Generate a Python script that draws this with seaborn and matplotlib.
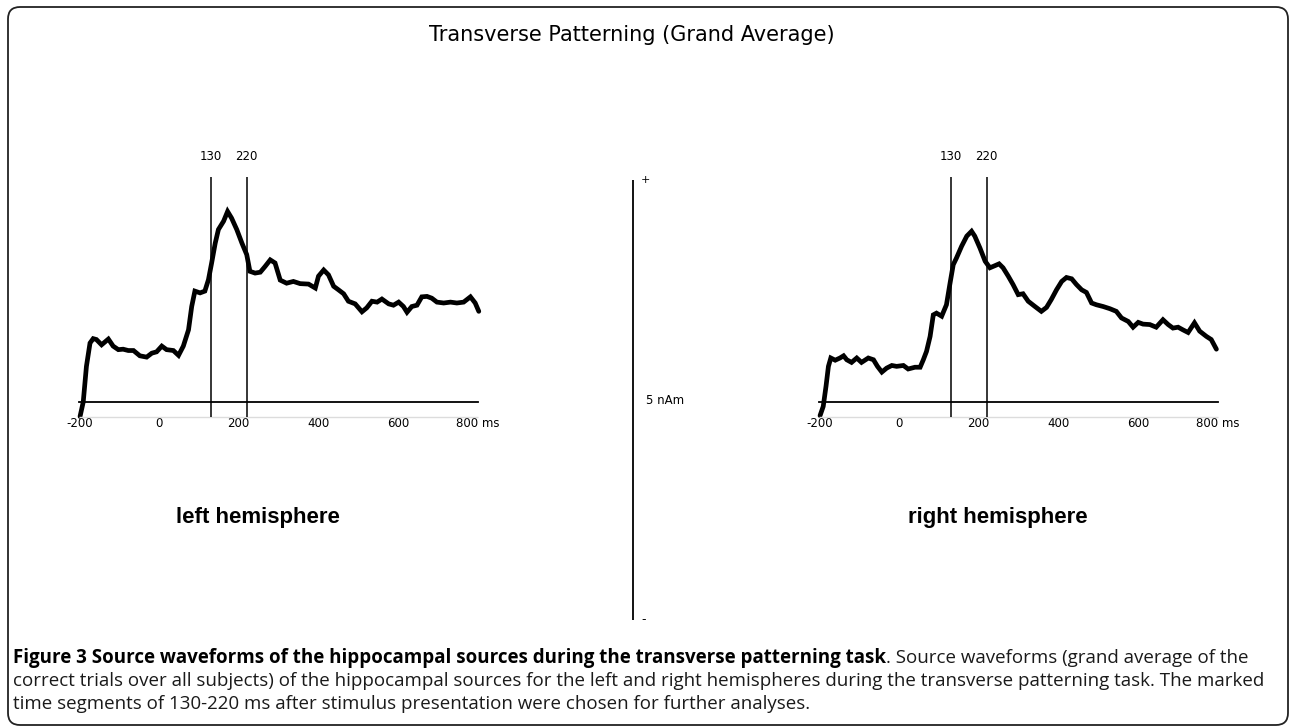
import numpy as np
import pandas as pd
import matplotlib.pyplot as plt
import seaborn as sns
from matplotlib.patches import FancyBboxPatch
from matplotlib.transforms import IdentityTransform

sns.set_style("white")
plt.rcParams['font.family'] = ['DejaVu Sans']
plt.rcParams['text.color'] = 'black'
plt.rcParams['xtick.color'] = 'black'
plt.rcParams['axes.edgecolor'] = 'black'

# grand-average source waveforms (ms, nAm)
left_ms = [-198, -190, -182, -173, -165, -157, -144, -127, -115, -102, -90, -77, -64, -48, -31, -18,
           -6, 7, 19, 36, 49, 61, 74, 82, 90, 103, 115, 124, 132, 141, 149, 162, 172, 182, 195, 208,
           220, 228, 241, 254, 266, 279, 291, 304, 320, 337, 354, 375, 392, 400, 413, 425, 438, 450,
           463, 475, 492, 509, 521, 534, 547, 559, 576, 588, 601, 613, 622, 634, 647, 659, 672, 684,
           697, 714, 731, 747, 764, 781, 793, 802]
left_nam = [-0.33, 0.0, 0.81, 1.34, 1.44, 1.42, 1.30, 1.43, 1.27, 1.19, 1.20, 1.17, 1.17, 1.05, 1.02, 1.11,
            1.14, 1.27, 1.19, 1.17, 1.06, 1.27, 1.64, 2.17, 2.52, 2.48, 2.52, 2.78, 3.16, 3.61, 3.92, 4.11,
            4.33, 4.18, 3.92, 3.61, 3.35, 2.97, 2.93, 2.95, 3.08, 3.23, 3.16, 2.77, 2.70, 2.74, 2.69, 2.68,
            2.59, 2.86, 3.00, 2.89, 2.63, 2.55, 2.46, 2.29, 2.23, 2.05, 2.14, 2.29, 2.27, 2.34, 2.23, 2.20,
            2.27, 2.17, 2.04, 2.17, 2.20, 2.39, 2.40, 2.36, 2.27, 2.25, 2.27, 2.25, 2.27, 2.39, 2.25, 2.06]

right_ms = [-198, -190, -183, -177, -171, -160, -148, -139, -131, -119, -106, -94, -77, -64, -54, -43,
            -31, -18, -6, 11, 23, 40, 53, 61, 69, 78, 86, 94, 107, 119, 128, 136, 144, 157, 170, 182,
            190, 203, 216, 228, 241, 251, 261, 274, 286, 299, 311, 324, 341, 357, 370, 382, 395, 408,
            420, 433, 445, 458, 470, 483, 495, 512, 529, 545, 558, 575, 587, 600, 612, 629, 645, 662,
            675, 687, 700, 712, 725, 741, 754, 771, 783, 796]
right_nam = [-0.31, -0.10, 0.36, 0.81, 1.00, 0.95, 1.00, 1.05, 0.96, 0.90, 1.00, 0.90, 1.00, 0.96, 0.81, 0.68,
             0.77, 0.83, 0.81, 0.83, 0.75, 0.79, 0.79, 0.96, 1.15, 1.49, 1.98, 2.02, 1.95, 2.21, 2.70, 3.12,
             3.27, 3.54, 3.77, 3.88, 3.77, 3.50, 3.20, 3.05, 3.10, 3.14, 3.05, 2.86, 2.67, 2.44, 2.46, 2.29,
             2.17, 2.06, 2.15, 2.33, 2.55, 2.74, 2.83, 2.80, 2.67, 2.55, 2.49, 2.25, 2.21, 2.17, 2.12, 2.06,
             1.91, 1.83, 1.70, 1.81, 1.77, 1.76, 1.70, 1.87, 1.76, 1.68, 1.70, 1.64, 1.58, 1.80, 1.61, 1.49,
             1.42, 1.20]

segment_ms = [130, 220]
tick_ms = [-200, 0, 200, 400, 600, 800]
tick_labels = ['-200', '0', '200', '400', '600', '800 ms']
hemispheres = ['left hemisphere', 'right hemisphere']

W, H = 1292, 727
fig = plt.figure(figsize=(W / 100, H / 100), dpi=100)

PX_MS = 0.39875   # px per ms
PX_NAM = 44.0     # px per nAm
AXIS_Y = 402      # px from top where 0 nAm sits
XLIM = (-215, 815)
YLIM = (-1, 6)


def panel(zero_px, ms, nam):
    left = zero_px + XLIM[0] * PX_MS
    width = (XLIM[1] - XLIM[0]) * PX_MS
    bottom = H - (AXIS_Y - YLIM[0] * PX_NAM)
    height = (YLIM[1] - YLIM[0]) * PX_NAM
    ax = fig.add_axes([left / W, bottom / H, width / W, height / H])
    df = pd.DataFrame({'ms': ms, 'nAm': nam})
    sns.lineplot(data=df, x='ms', y='nAm', ax=ax, color='black', linewidth=3.4,
                 sort=False, estimator=None, solid_joinstyle='miter')
    ax.set_xlim(*XLIM)
    ax.set_ylim(*YLIM)
    ax.patch.set_alpha(0)
    # faint baseline copy below the axis
    ax.hlines(-0.33, -200, 800, color='#dcdcdc', lw=1)
    ax.vlines(segment_ms, -0.33, 5.12, color='black', lw=1.1)
    for m in segment_ms:
        ax.text(m, 5.57, str(m), ha='center', va='center', fontsize=8.5)
    for s in ['top', 'right', 'left']:
        ax.spines[s].set_visible(False)
    ax.spines['bottom'].set_position(('data', 0))
    ax.spines['bottom'].set_bounds(-200, 800)
    ax.spines['bottom'].set_linewidth(1.3)
    ax.set_xticks(tick_ms)
    ax.set_xticklabels(tick_labels)
    ax.set_xticks(np.arange(-100, 800, 200), minor=True)
    ax.tick_params(axis='x', which='major', direction='in', length=5, width=1.2,
                   pad=11, labelsize=8.5)
    ax.tick_params(axis='x', which='minor', direction='in', length=2.5, width=1.2)
    ax.set_yticks([])
    ax.set_xlabel('')
    ax.set_ylabel('')
    return ax


panel(159, left_ms, left_nam)
panel(899, right_ms, right_nam)

# scale bar in the middle
sb_x = 633
sax = fig.add_axes([(sb_x - 10) / W, (H - 622) / H, 80 / W, 444 / H])
sax.set_xlim(-10, 70)
sax.set_ylim(-5.05, 5.05)
sax.axis('off')
sax.vlines(0, -5, 5, color='black', lw=1.3)
sax.text(8, 5, '+', ha='left', va='center', fontsize=8)
sax.text(8, -5, '-', ha='left', va='center', fontsize=9)
sax.text(13, 0, '5 nAm', ha='left', va='center', fontsize=8.5)

fig.text(631.5 / W, 1 - 35 / H, 'Transverse Patterning (Grand Average)', ha='center',
         va='center', fontsize=15)
for cx, lab in zip([258, 998], hemispheres):
    fig.text(cx / W, 1 - 517 / H, lab, ha='center', va='center', fontsize=16,
             fontweight='bold', family='Liberation Sans')

# caption
cap_font = dict(family='Open Sans', fontsize=13.5, va='baseline', ha='left')
y1 = 1 - 663 / H
tb = fig.text(13 / W, y1, 'Figure 3 Source waveforms of the hippocampal sources during the '
              'transverse patterning task', fontweight='bold', **cap_font)
fig.canvas.draw()
bb = tb.get_window_extent()
fig.text(bb.x1 / W, y1, '. Source waveforms (grand average of the', color='#1a1a1a', **cap_font)
fig.text(13 / W, 1 - 686 / H, 'correct trials over all subjects) of the hippocampal sources for the '
         'left and right hemispheres during the transverse patterning task. The marked',
         color='#1a1a1a', **cap_font)
fig.text(13 / W, 1 - 709 / H, 'time segments of 130-220 ms after stimulus presentation were chosen '
         'for further analyses.', color='#1a1a1a', **cap_font)

# rounded frame around the figure
frame = FancyBboxPatch((8, 2), 1280, 718, boxstyle='round,pad=0,rounding_size=12',
                       transform=IdentityTransform(), fill=False, lw=1.3, edgecolor='#222222')
fig.patches.append(frame)

fig.savefig('out.png', dpi=100)
